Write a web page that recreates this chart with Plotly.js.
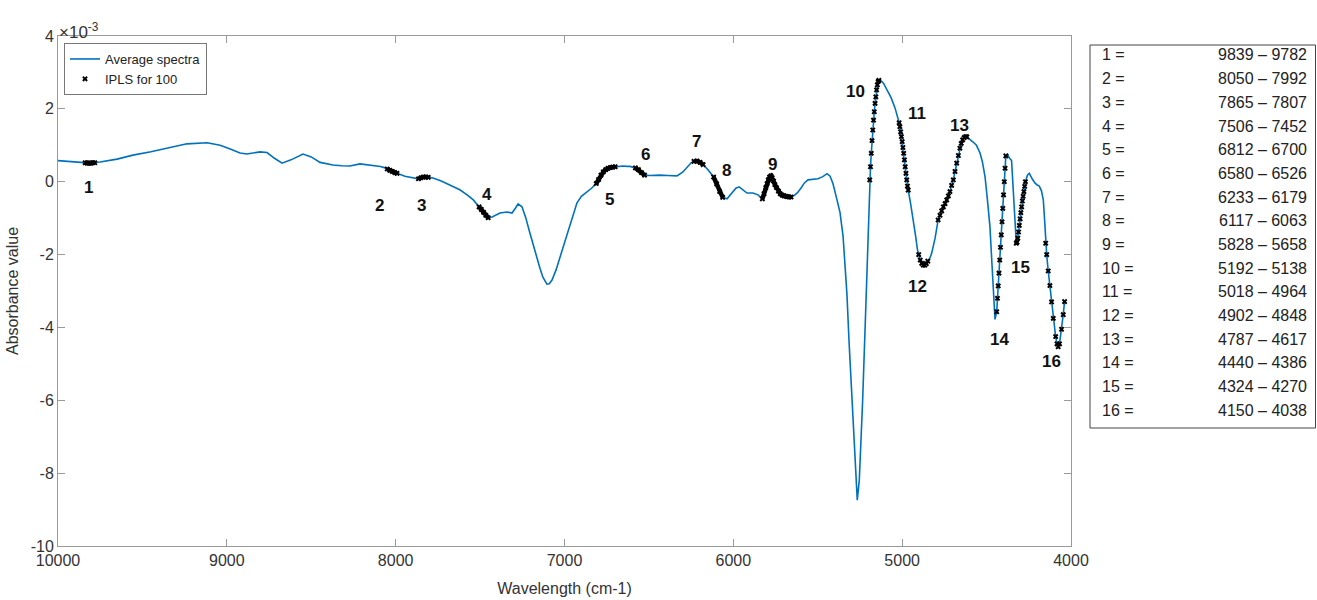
<!DOCTYPE html>
<html>
<head>
<meta charset="utf-8">
<script src="https://cdn.plot.ly/plotly-3.0.1.min.js"></script>
<style>html,body{margin:0;padding:0;background:#fff;}#chart{width:1317px;height:600px;}</style>
</head>
<body>
<div id="chart"></div>
<script>
// Spectrum (wavenumber in cm-1, absorbance in units of 1e-3)
const wavenumber = [
10000,9970,9920,9880,9839,9828,9816,9805,9794,9782,9751,9650,9556,9450,9354,9236,9117,9040,8980,8922,
8881,8840,8804,8762,8720,8673,8620,8549,8500,8448,8400,8371,8320,8271,8211,8170,8134,8090,8063,
8050,8035,8020,8005,7992,7945,7900,7865,7850,7836,7821,7807,7779,7730,7678,7620,7577,7540,
7506,7493,7479,7466,7452,7429,7400,7382,7341,7311,7290,7275,7252,7230,7205,7185,7163,7145,7128,
7104,7090,7074,7050,7027,7000,6968,6945,6926,6900,6867,6840,
6812,6798,6784,6770,6756,6742,6728,6714,6700,6680,6654,6630,6612,
6580,6562,6544,6526,6494,6465,6435,6390,6334,6300,6274,6250,
6233,6215,6197,6179,6150,6117,6099,6081,6063,6037,6020,6002,5985,5966,5945,5919,5884,5854,
5828,5818,5808,5800,5793,5785,5777,5770,5762,5754,5745,5733,5722,5711,5700,5690,5680,5669,5658,
5640,5620,5600,5580,5558,5530,5499,5470,5445,5427,5410,5386,5368,5350,5339,5327,5315,5298,5274,
5266,5254,5234,5214,5208,5200,
5192,5187.5,5183,5178.5,5174,5169.5,5165,5160.5,5156,5151.5,5147,5142.5,5138,
5131,5110,5090,5065,5042,5030,
5018,5013.5,5009,5004.5,5000,4995.5,4991,4986.5,4982,4977.5,4973,4968.5,4964,
4950,4936,4920,4910,
4902,4893,4884,4875,4866,4857,4848,4836,4825,4805,
4787,4776,4766,4756,4746,4736,4726,4717,4707,4697,4687,4677,4667,4658,4650,4642,4633,4624,4617,
4600,4580,4560,4539,4525,4509,4495,4480,4470,4460,4450,
4440,4435.5,4431,4426.5,4422,4417.5,4413,4408.5,4404,4399.5,4395,4390.5,4386,
4375,4365,4352,4342,4332,
4324,4319.5,4315,4310.5,4306,4301.5,4297,4292.5,4288,4283.5,4279,4274.5,4270,
4258,4247,4230,4213,4200,4188,4175,4164,4157,
4150,4144,4135,4125,4115,4105,4091,4083,4076,4068,4056,4046,4038
];
const absorbance = [
0.58,0.57,0.55,0.53,0.52,0.51,0.51,0.51,0.52,0.52,0.54,0.62,0.73,0.82,0.92,1.04,1.07,1.00,0.90,0.79,
0.76,0.80,0.82,0.80,0.65,0.51,0.60,0.76,0.68,0.53,0.49,0.46,0.44,0.43,0.49,0.47,0.46,0.42,0.38,
0.35,0.31,0.28,0.25,0.23,0.15,0.10,0.08,0.11,0.13,0.13,0.12,0.10,0.02,-0.09,-0.22,-0.36,-0.50,
-0.69,-0.76,-0.84,-0.92,-0.99,-0.97,-0.90,-0.86,-0.83,-0.86,-0.72,-0.61,-0.69,-0.98,-1.41,-1.75,-2.07,-2.38,-2.62,
-2.81,-2.80,-2.70,-2.42,-2.07,-1.70,-1.24,-0.85,-0.58,-0.40,-0.28,-0.18,
-0.05,0.06,0.18,0.27,0.33,0.37,0.39,0.40,0.41,0.43,0.43,0.42,0.42,
0.38,0.33,0.25,0.18,0.17,0.18,0.18,0.17,0.16,0.26,0.40,0.52,
0.56,0.57,0.53,0.47,0.33,0.13,-0.06,-0.27,-0.43,-0.47,-0.38,-0.28,-0.18,-0.14,-0.22,-0.31,-0.31,-0.36,
-0.47,-0.33,-0.16,-0.05,0.05,0.13,0.16,0.11,0.02,-0.08,-0.16,-0.26,-0.33,-0.37,-0.39,-0.40,-0.41,-0.42,-0.42,
-0.38,-0.30,-0.18,-0.04,0.05,0.07,0.08,0.14,0.22,0.15,-0.05,-0.50,-0.85,-1.50,-2.20,-3.10,-4.35,-6.00,-8.20,
-8.74,-8.20,-6.00,-3.25,-2.30,-1.15,
0.05,0.41,0.78,1.13,1.42,1.69,1.92,2.15,2.33,2.52,2.66,2.75,2.78,
2.80,2.70,2.52,2.30,2.02,1.85,
1.62,1.51,1.37,1.24,1.10,0.94,0.78,0.60,0.41,0.23,0.05,-0.12,-0.23,
-0.60,-0.97,-1.50,-1.85,
-2.00,-2.15,-2.24,-2.29,-2.29,-2.25,-2.18,-2.10,-1.96,-1.55,
-1.05,-0.92,-0.80,-0.69,-0.60,-0.50,-0.39,-0.27,-0.10,0.05,0.28,0.51,0.72,0.92,1.05,1.15,1.21,1.24,1.23,
1.17,1.09,1.00,0.79,0.55,0.13,-0.50,-1.24,-2.10,-3.06,-3.78,
-3.57,-3.20,-2.86,-2.51,-2.15,-1.80,-1.46,-1.10,-0.73,-0.36,0.00,0.37,0.71,
0.75,0.65,0.58,-0.20,-1.05,
-1.69,-1.66,-1.55,-1.38,-1.20,-1.02,-0.85,-0.69,-0.53,-0.40,-0.27,-0.13,0.00,
0.18,0.23,0.08,-0.04,-0.09,-0.12,-0.25,-0.50,-1.00,
-1.69,-2.00,-2.45,-2.85,-3.30,-3.75,-4.25,-4.45,-4.53,-4.45,-4.05,-3.65,-3.29
];

// IPLS selected intervals (cm-1)
const regionLabels = ['1','2','3','4','5','6','7','8','9','10','11','12','13','14','15','16'];
const regionStart = [9839,8050,7865,7506,6812,6580,6233,6117,5828,5192,5018,4902,4787,4440,4324,4150];
const regionEnd   = [9782,7992,7807,7452,6700,6526,6179,6063,5658,5138,4964,4848,4617,4386,4270,4038];

// Axis ticks
const xTicks = [10000,9000,8000,7000,6000,5000,4000];
const yTicks = [4,2,0,-2,-4,-6,-8,-10];

// ---- build IPLS marker series from the spectrum points inside the intervals
const iplsX = [], iplsY = [];      // all intervals (markers)
const bandX = [], bandY = [];      // gently sloped intervals, where markers merge into a band
regionStart.forEach((s, r) => {
  const e = regionEnd[r];
  for (let i = 0; i < wavenumber.length; i++) {
    if (wavenumber[i] <= s && wavenumber[i] >= e) {
      iplsX.push(wavenumber[i]); iplsY.push(absorbance[i]);
      if (r < 9) { bandX.push(wavenumber[i]); bandY.push(absorbance[i]); }
    }
  }
  iplsX.push(null); iplsY.push(null);
  if (r < 9) { bandX.push(null); bandY.push(null); }
});

const FONT = 'Liberation Sans, Arial, sans-serif';

const traces = [
  {x: wavenumber, y: absorbance, type: 'scatter', mode: 'lines', name: 'Average spectra',
   line: {color: '#0072BD', width: 1.6}, hoverinfo: 'skip'},
  {x: bandX, y: bandY, type: 'scatter', mode: 'lines', showlegend: false,
   line: {color: '#000', width: 4.5}, connectgaps: false, hoverinfo: 'skip'},
  {x: iplsX, y: iplsY, type: 'scatter', mode: 'markers', name: 'IPLS for 100',
   marker: {symbol: 'x', size: 5, color: '#000', line: {width: 0}}, connectgaps: false, hoverinfo: 'skip'}
];

// label positions (wavenumber, value) for the interval numbers
const labelPosX = [9822,8093,7846,7457,6731,6523,6217,6039,5767,5279,4914,4910,4662,4421,4298,4118];
const labelPosY = [-0.15,-0.64,-0.64,-0.34,-0.50,0.75,1.10,0.32,0.48,2.47,1.88,-2.88,1.53,-4.33,-2.35,-4.94];

const annotations = [];
regionLabels.forEach((t, i) => {
  annotations.push({x: labelPosX[i], y: labelPosY[i], xref: 'x', yref: 'y', text: '<b>' + t + '</b>',
    showarrow: false, font: {family: FONT, size: 17, color: '#111'}});
});

// plot area in px: left 58, right 1071, top 36, bottom 546
const L = 58, R = 1071, T = 36, B = 546;
const px = v => (v - L) / (R - L);
const py = v => (B - v) / (B - T);

// exponent label
annotations.push({xref: 'paper', yref: 'paper', x: px(57), y: py(44), xanchor: 'left', yanchor: 'bottom',
  text: '×10<sup>-3</sup>', showarrow: false, font: {family: FONT, size: 17, color: '#333'}});

// table of intervals on the right
regionLabels.forEach((t, i) => {
  const yy = py(55 + i * 23.67);
  annotations.push({xref: 'paper', yref: 'paper', x: px(1100), y: yy, xanchor: 'left', yanchor: 'middle',
    text: t + ' =', showarrow: false, font: {family: FONT, size: 16, color: '#222'}});
  annotations.push({xref: 'paper', yref: 'paper', x: px(1309), y: yy, xanchor: 'right', yanchor: 'middle',
    text: regionStart[i] + ' – ' + regionEnd[i], showarrow: false, font: {family: FONT, size: 16, color: '#222'}});
});

const shapes = [
  {type: 'rect', xref: 'paper', yref: 'paper', x0: px(1090), x1: px(1315.5), y0: py(428), y1: py(45),
   line: {color: '#444', width: 1}, fillcolor: 'rgba(0,0,0,0)'}
];

const axisCommon = {
  showgrid: false, zeroline: false, showline: true, linecolor: '#9a9a9a', linewidth: 1,
  mirror: 'allticks', ticks: 'inside', ticklen: 7, tickcolor: '#9a9a9a', tickwidth: 1,
  tickfont: {family: FONT, size: 16, color: '#333'}
};

const layout = {
  width: 1317, height: 600,
  margin: {l: L, r: 1317 - R, t: T, b: 600 - B},
  paper_bgcolor: '#fff', plot_bgcolor: '#fff',
  font: {family: FONT},
  showlegend: true,
  legend: {x: px(64), y: py(43), xanchor: 'left', yanchor: 'top', bgcolor: '#fff',
    bordercolor: '#777', borderwidth: 1, font: {family: FONT, size: 13, color: '#222'},
    itemwidth: 30, tracegroupgap: 0},
  xaxis: Object.assign({}, axisCommon, {range: [10000, 4000], tickvals: xTicks, ticktext: xTicks.map(String),
    title: {text: 'Wavelength (cm-1)', font: {family: FONT, size: 16, color: '#333'}, standoff: 14}}),
  yaxis: Object.assign({}, axisCommon, {range: [-10, 4], tickvals: yTicks, ticktext: yTicks.map(String),
    title: {text: 'Absorbance value', font: {family: FONT, size: 16, color: '#333'}, standoff: 8}}),
  annotations: annotations,
  shapes: shapes
};

Plotly.newPlot('chart', traces, layout, {displayModeBar: false, staticPlot: true});
</script>
</body>
</html>
